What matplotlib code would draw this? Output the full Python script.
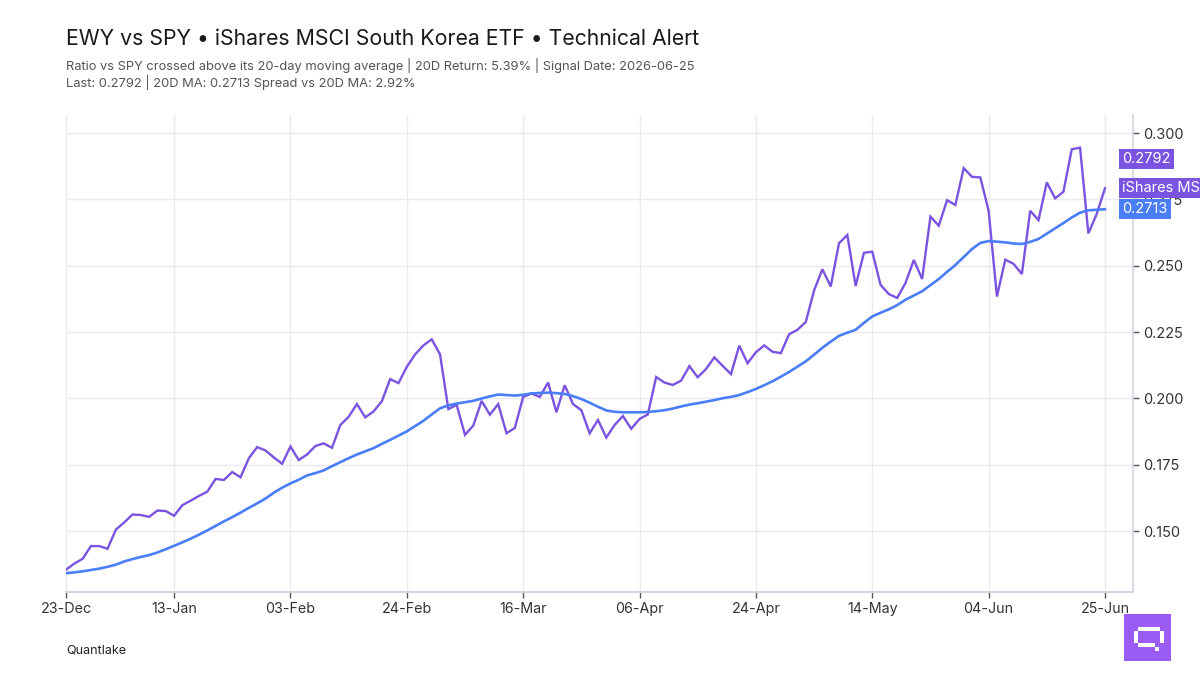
import numpy as np
import pandas as pd
import matplotlib
matplotlib.use('Agg')
import matplotlib.pyplot as plt
from matplotlib.patches import Rectangle

plt.rcParams['font.family'] = ['Inter', 'DejaVu Sans']

########################################################################
### data ###
########################################################################

#US market holidays inside the window (trading-day axis)
holidays = ['2025-12-25', '2026-01-01', '2026-01-19', '2026-02-16',
            '2026-04-03', '2026-05-25', '2026-06-19']
dates = pd.bdate_range('2025-12-23', '2026-06-25', freq='C', holidays=holidays)

#EWY / SPY price ratio
ratio = [
    0.1355, 0.1378, 0.1396, 0.1444, 0.1444, 0.1434, 0.1506, 0.1533, 0.1563, 0.1561,
    0.1554, 0.1578, 0.1576, 0.1558, 0.1598, 0.1615, 0.1633, 0.1649, 0.1697, 0.1693,
    0.1723, 0.1703, 0.1775, 0.1817, 0.1804, 0.1778, 0.1754, 0.1819, 0.1768, 0.1789,
    0.1821, 0.1831, 0.1814, 0.1900, 0.1931, 0.1979, 0.1929, 0.1951, 0.1990, 0.2073,
    0.2058, 0.2119, 0.2166, 0.2200, 0.2223, 0.2166, 0.1960, 0.1976, 0.1863, 0.1898,
    0.1991, 0.1939, 0.1979, 0.1869, 0.1889, 0.2006, 0.2019, 0.2006, 0.2060, 0.1948,
    0.2050, 0.1979, 0.1956, 0.1869, 0.1919, 0.1853, 0.1900, 0.1934, 0.1886, 0.1923,
    0.1940, 0.2081, 0.2060, 0.2051, 0.2067, 0.2122, 0.2080, 0.2111, 0.2155, 0.2123,
    0.2092, 0.2199, 0.2133, 0.2174, 0.2200, 0.2176, 0.2171, 0.2242, 0.2259, 0.2288,
    0.2407, 0.2487, 0.2422, 0.2585, 0.2616, 0.2424, 0.2549, 0.2553, 0.2428, 0.2393,
    0.2379, 0.2435, 0.2522, 0.2450, 0.2685, 0.2651, 0.2747, 0.2729, 0.2868, 0.2835,
    0.2833, 0.2707, 0.2384, 0.2523, 0.2507, 0.2469, 0.2707, 0.2672, 0.2814, 0.2754,
    0.2779, 0.2939, 0.2945, 0.2622, 0.2695, 0.2792,
]

#20-day moving average of the ratio
ma20 = [
    0.1342, 0.1345, 0.1349, 0.1354, 0.1359, 0.1366, 0.1374, 0.1386, 0.1395, 0.1403,
    0.1410, 0.1420, 0.1432, 0.1445, 0.1458, 0.1472, 0.1487, 0.1503, 0.1520, 0.1537,
    0.1553, 0.1570, 0.1588, 0.1605, 0.1623, 0.1645, 0.1664, 0.1680, 0.1694, 0.1710,
    0.1719, 0.1729, 0.1745, 0.1760, 0.1775, 0.1789, 0.1801, 0.1813, 0.1829, 0.1844,
    0.1860, 0.1876, 0.1896, 0.1916, 0.1940, 0.1963, 0.1974, 0.1981, 0.1986, 0.1991,
    0.2000, 0.2008, 0.2015, 0.2013, 0.2011, 0.2014, 0.2019, 0.2021, 0.2022, 0.2020,
    0.2017, 0.2009, 0.1998, 0.1984, 0.1969, 0.1955, 0.1950, 0.1948, 0.1948, 0.1948,
    0.1949, 0.1952, 0.1956, 0.1962, 0.1970, 0.1977, 0.1982, 0.1988, 0.1994, 0.2001,
    0.2006, 0.2013, 0.2024, 0.2036, 0.2050, 0.2065, 0.2082, 0.2100, 0.2120, 0.2140,
    0.2165, 0.2191, 0.2214, 0.2236, 0.2248, 0.2259, 0.2285, 0.2309, 0.2323, 0.2336,
    0.2352, 0.2372, 0.2388, 0.2404, 0.2427, 0.2450, 0.2477, 0.2503, 0.2533, 0.2563,
    0.2586, 0.2593, 0.2591, 0.2588, 0.2584, 0.2582, 0.2590, 0.2601, 0.2621, 0.2641,
    0.2661, 0.2682, 0.2700, 0.2709, 0.2711, 0.2713,
]

y_ticks = [0.150, 0.175, 0.200, 0.225, 0.250, 0.275, 0.300]

title = 'EWY vs SPY \u2022 iShares MSCI South Korea ETF \u2022 Technical Alert'
subtitle = ('Ratio vs SPY crossed above its 20-day moving average | 20D Return: 5.39% | '
            'Signal Date: 2026-06-25\nLast: 0.2792 | 20D MA: 0.2713 Spread vs 20D MA: 2.92%')
series_name = 'iShares MSCI South Korea ETF'

#colors
c_ratio = '#7B53E1'
c_ma = '#4A7DF8'
c_grid = '#EAEAF0'
c_axis = '#D4D4E2'
c_logo = '#9B5CF6'

########################################################################
### plot ###
########################################################################

W, H = 1200, 675
fig = plt.figure(figsize=(12, 6.75), dpi=100)
ax = fig.add_axes([66 / W, 1 - 592 / H, (1133 - 66) / W, (592 - 115) / H])

x = np.arange(len(ratio))
ax.plot(x, ratio, color=c_ratio, lw=1.7, zorder=3, solid_joinstyle='miter')
ax.plot(x, ma20, color=c_ma, lw=1.9, zorder=3)

#axis limits
ax.set_xlim(0, (1133 - 66) / ((1105 - 66) / (len(x) - 1)))
ax.set_ylim(0.1271, 0.3068)

#x ticks every 14 trading days counted back from the last day
tick_idx = sorted(set([0] + list(range(len(x) - 1, 0, -14))))
ax.set_xticks(tick_idx)
ax.set_xticklabels([dates[i].strftime('%d-%b') for i in tick_idx],
                   fontsize=10.3, color='#333333')

#y axis on the right
ax.yaxis.tick_right()
ax.set_yticks(y_ticks)
ax.set_yticklabels(['%.3f' % v for v in y_ticks], fontsize=10.5, color='#333333')
ax.tick_params(axis='both', length=4, width=1, color='#555555', pad=3)

#grid
ax.grid(True, color=c_grid, lw=1)
ax.set_axisbelow(True)

#spines
for s in ['left', 'top']:
    ax.spines[s].set_visible(False)
ax.spines['bottom'].set_color(c_axis)
ax.spines['bottom'].set_linewidth(1.5)
ax.spines['right'].set_color(c_axis)
ax.spines['right'].set_linewidth(1.2)

#last value tags on the right
tag_kw = dict(xycoords=('axes fraction', 'data'), textcoords='offset pixels',
              color='white', fontsize=10.5, va='center', ha='left',
              annotation_clip=False, zorder=10)
ax.annotate('%.4f' % ratio[-1], xy=(1, ratio[-1]), xytext=(-11, 29),
            bbox=dict(boxstyle='square,pad=0.22', fc=c_ratio, ec='none'), **tag_kw)
ax.annotate(series_name, xy=(1, ratio[-1]), xytext=(-11, 0),
            bbox=dict(boxstyle='square,pad=0.22', fc=c_ratio, ec='none'), **tag_kw)
ax.annotate('%.4f' % ma20[-1], xy=(1, ma20[-1]), xytext=(-11, 0),
            bbox=dict(boxstyle='square,pad=0.22', fc=c_ma, ec='none'), **tag_kw)

#titles
fig.text(66 / W, 1 - 39 / H, title, fontsize=15.3, color='#1a1a1a', va='center')
fig.text(66 / W, 1 - 74 / H, subtitle, fontsize=9.3, color='#555555', va='center',
         linespacing=1.15)
fig.text(66 / W, 1 - 650 / H, 'Quantlake', fontsize=9, color='#222222', va='center')

#logo (pixel "Q" on a purple square)
def px_rect(x0, y0, w, h, **kw):
    fig.patches.append(Rectangle((x0 / W, 1 - (y0 + h) / H), w / W, h / H,
                                 transform=fig.transFigure, **kw))

px_rect(1124, 614, 47, 47, fc=c_logo, ec='none')
for r in [(1138, 627, 22, 4), (1134, 631, 4, 12), (1160, 631, 4, 12),
          (1138, 643, 17, 4), (1155, 647, 4, 4)]:
    px_rect(*r, fc='white', ec='none')

fig.savefig('out.png', dpi=100, facecolor='white')
